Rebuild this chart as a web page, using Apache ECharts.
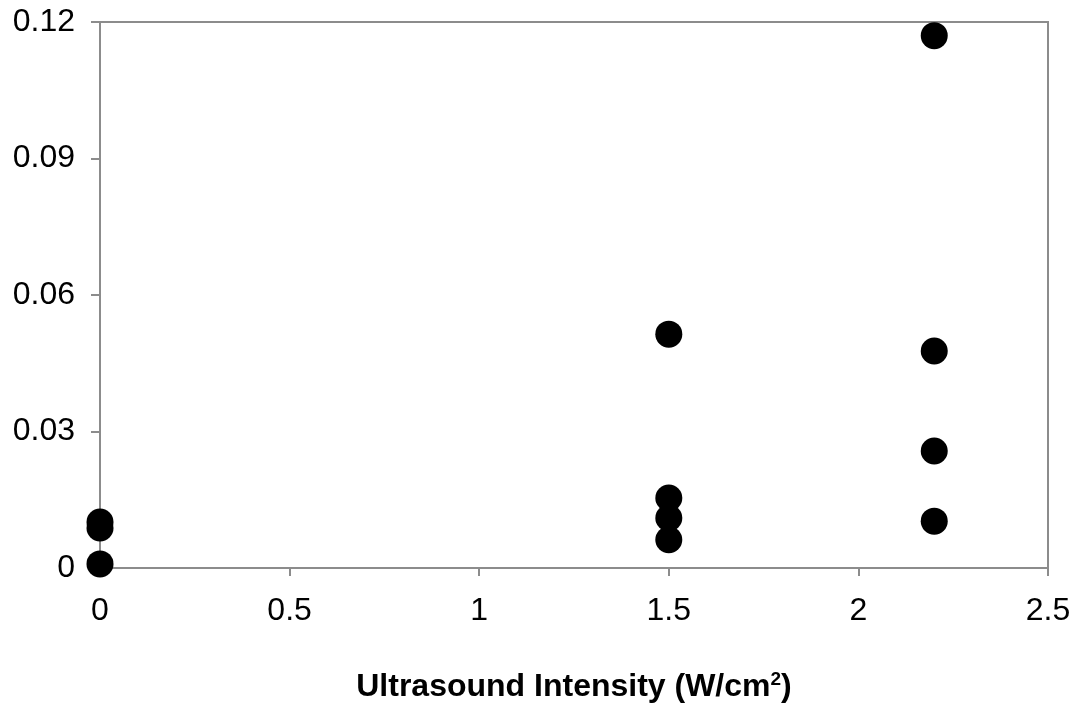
<!DOCTYPE html>
<html>
<head>
<meta charset="utf-8">
<script src="https://cdn.jsdelivr.net/npm/echarts@6/dist/echarts.min.js"></script>
<style>
  html, body { margin: 0; padding: 0; background: #fff; }
  #chart { width: 1087px; height: 708px; }
</style>
</head>
<body>
<div id="chart"></div>
<script>
// intensity (W/cm2) and measured value for each sample
const intensity = [0, 0, 0, 1.5, 1.5, 1.5, 1.5, 2.2, 2.2, 2.2, 2.2]
const measured = [0.0101, 0.0088, 0.0009, 0.0514, 0.0154, 0.0110, 0.0062, 0.1170, 0.0477, 0.0257, 0.0103]
const xTicks = [0, 0.5, 1, 1.5, 2, 2.5]
const yTicks = [0, 0.03, 0.06, 0.09, 0.12]

const chart = echarts.init(document.getElementById('chart'))

const labelFont = 'Liberation Sans, Arial, sans-serif'

chart.setOption({
  animation: false,
  grid: {
    left: 100, right: 39, top: 22, bottom: 140,
    show: true,
    borderColor: '#8c8c8c',
    borderWidth: 2
  },
  xAxis: {
    type: 'value',
    min: xTicks[0],
    max: xTicks[xTicks.length - 1],
    interval: 0.5,
    name: '{t|Ultrasound Intensity (W/cm}{s|2}{t|)}',
    nameLocation: 'middle',
    nameGap: 102,
    nameTextStyle: {
      rich: {
        t: { fontFamily: labelFont, fontSize: 32, lineHeight: 34, fontWeight: 'bold', color: '#000' },
        s: { fontFamily: labelFont, fontSize: 19, lineHeight: 19, fontWeight: 'bold', color: '#000', verticalAlign: 'top' }
      }
    },
    axisLine: { lineStyle: { color: '#8c8c8c', width: 2 } },
    axisTick: { show: true, length: 8, inside: false, lineStyle: { color: '#8c8c8c', width: 2 } },
    axisLabel: { color: '#000', fontFamily: labelFont, fontSize: 32, margin: 27 },
    splitLine: { show: false }
  },
  yAxis: {
    type: 'value',
    min: yTicks[0],
    max: yTicks[yTicks.length - 1],
    interval: 0.03,
    axisLine: { show: true, lineStyle: { color: '#8c8c8c', width: 2 } },
    axisTick: { show: true, length: 9, inside: false, lineStyle: { color: '#8c8c8c', width: 2 } },
    axisLabel: {
      color: '#000', fontFamily: labelFont, fontSize: 32, margin: 25,
      formatter: v => String(Math.round(v * 100) / 100)
    },
    splitLine: { show: false }
  },
  series: [{
    type: 'scatter',
    symbol: 'circle',
    symbolSize: 27,
    itemStyle: { color: '#000', opacity: 1 },
    data: intensity.map((x, i) => [x, measured[i]])
  }]
})
</script>
</body>
</html>
